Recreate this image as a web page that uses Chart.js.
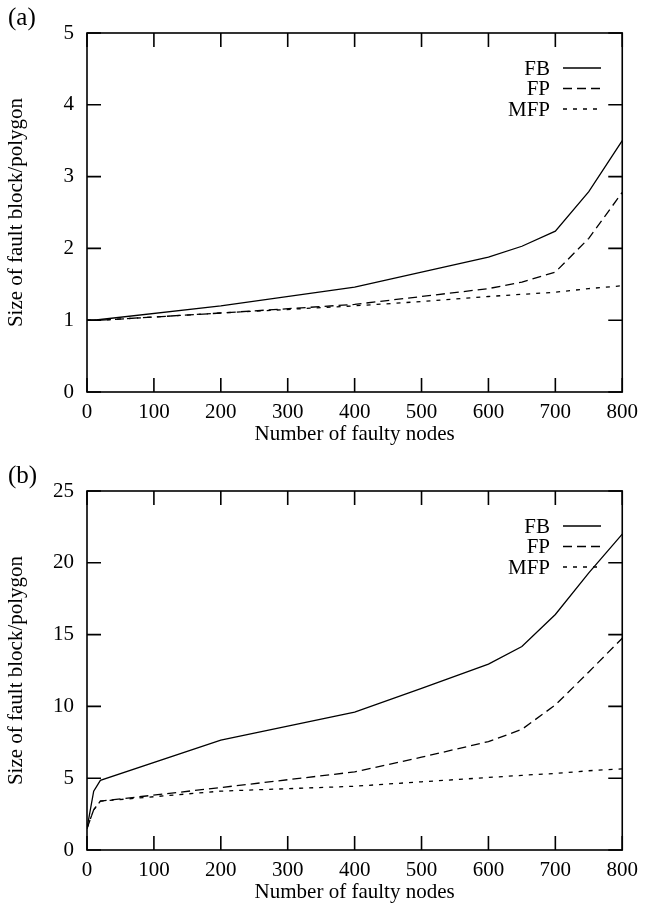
<!DOCTYPE html>
<html>
<head>
<meta charset="utf-8">
<script src="https://cdn.jsdelivr.net/npm/chart.js@4"></script>
<style>
  html, body { margin: 0; padding: 0; background: #fff; overflow: hidden; }
  .panel { position: absolute; left: 0; width: 646px; height: 454px; }
  .tag { position: absolute; left: 8px; top: 4px; font: 25px/25px "Liberation Serif", serif; color: #000; }
</style>
</head>
<body>
<div class="panel" style="top:0"><canvas id="chartA" width="646" height="454"></canvas><div class="tag">(a)</div></div>
<div class="panel" style="top:458px"><canvas id="chartB" width="646" height="454"></canvas><div class="tag">(b)</div></div>
<script>
// x positions (number of faulty nodes) shared by both panels
const faultyNodes = [0, 10, 20, 200, 400, 500, 600, 650, 700, 750, 800];
const seriesNames = ["FB", "FP", "MFP"];

// (a)
const fbA  = [1.0, 1.0, 1.01, 1.2, 1.46, 1.67, 1.88, 2.03, 2.24, 2.79, 3.5];
const fpA  = [1.0, 1.0, 1.0, 1.1, 1.22, 1.33, 1.44, 1.53, 1.67, 2.14, 2.78];
const mfpA = [1.0, 1.0, 1.0, 1.1, 1.2, 1.26, 1.33, 1.36, 1.39, 1.44, 1.48];

// (b)
const fbB  = [1.5, 4.1, 4.85, 7.65, 9.6, 11.25, 12.94, 14.17, 16.4, 19.3, 22.0];
const fpB  = [1.5, 2.8, 3.4, 4.35, 5.44, 6.46, 7.55, 8.4, 10.1, 12.4, 14.75];
const mfpB = [1.5, 2.8, 3.4, 4.1, 4.44, 4.75, 5.05, 5.2, 5.33, 5.52, 5.65];

const xTicksMax = 800;
const yMaxA = 5, yStepA = 1;
const yMaxB = 25, yStepB = 5;

const SERIF = '"Liberation Serif", "Times New Roman", serif';
const dashes = [[], [9, 5], [4, 6]];

// gnuplot style: closed frame, inward ticks on all sides, legend text left of sample line
const framePlugin = {
  id: "frame",
  afterDraw(chart){
    const ctx = chart.ctx;
    const a = chart.chartArea;
    const xs = chart.scales.x, ys = chart.scales.y;
    const tl = 14;
    ctx.save();
    ctx.strokeStyle = "#000";
    ctx.lineWidth = 1.6;
    ctx.setLineDash([]);
    ctx.strokeRect(a.left, a.top, a.right - a.left, a.bottom - a.top);
    ctx.beginPath();
    for (const t of xs.ticks){
      const px = xs.getPixelForValue(t.value);
      ctx.moveTo(px, a.bottom); ctx.lineTo(px, a.bottom - tl);
      ctx.moveTo(px, a.top); ctx.lineTo(px, a.top + tl);
    }
    for (const t of ys.ticks){
      const py = ys.getPixelForValue(t.value);
      ctx.moveTo(a.left, py); ctx.lineTo(a.left + tl, py);
      ctx.moveTo(a.right, py); ctx.lineTo(a.right - tl, py);
    }
    ctx.stroke();

    // legend
    ctx.font = "21px " + SERIF;
    ctx.fillStyle = "#000";
    ctx.textAlign = "right";
    ctx.textBaseline = "middle";
    chart.data.datasets.forEach((ds, i) => {
      const y = 68 + i * 20.5;
      ctx.fillText(ds.label, 550, y + 1);
      ctx.lineWidth = 1.3;
      ctx.setLineDash(ds.borderDash || []);
      ctx.beginPath();
      ctx.moveTo(563, y); ctx.lineTo(601, y);
      ctx.stroke();
    });
    ctx.restore();
  }
};

function makeChart(id, series, yMax, yStep){
  const datasets = series.map((vals, i) => ({
    label: seriesNames[i],
    data: faultyNodes.map((x, j) => ({ x, y: vals[j] })),
    borderColor: "#000",
    borderWidth: 1.3,
    borderDash: dashes[i],
    pointRadius: 0,
    tension: 0,
    fill: false
  }));
  return new Chart(document.getElementById(id), {
    type: "line",
    data: { datasets },
    options: {
      responsive: false,
      animation: false,
      layout: { padding: { left: 0, top: 33, right: 18, bottom: 0 } },
      plugins: { legend: { display: false }, tooltip: { enabled: false } },
      scales: {
        x: {
          type: "linear", min: 0, max: xTicksMax,
          grid: { display: false, drawTicks: false },
          border: { display: false },
          ticks: { stepSize: 100, color: "#000", font: { family: SERIF, size: 21 }, padding: 8, maxRotation: 0 },
          title: { display: true, text: "Number of faulty nodes", color: "#000", font: { family: SERIF, size: 21 }, padding: { top: 0, bottom: 7 } },
          afterFit(s){ s.height = 62; }
        },
        y: {
          min: 0, max: yMax,
          grid: { display: false, drawTicks: false },
          border: { display: false },
          ticks: { stepSize: yStep, color: "#000", font: { family: SERIF, size: 21 }, padding: 13 },
          title: { display: true, text: "Size of fault block/polygon", color: "#000", font: { family: SERIF, size: 21 }, padding: { top: 4, bottom: 0 } },
          afterFit(s){ s.width = 87; }
        }
      }
    },
    plugins: [framePlugin]
  });
}

makeChart("chartA", [fbA, fpA, mfpA], yMaxA, yStepA);
makeChart("chartB", [fbB, fpB, mfpB], yMaxB, yStepB);
</script>
</body>
</html>
